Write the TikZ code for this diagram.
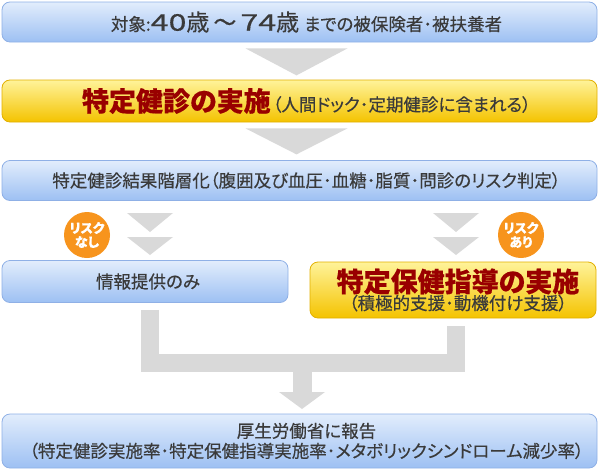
\documentclass[tikz,border=0pt]{standalone}
\usepackage{fontspec}
\setmainfont{Noto Sans CJK JP}[RawFeature=+palt, FakeBold=0.4]
\usetikzlibrary{calc}

\definecolor{bluetop}{HTML}{E2EDFC}
\definecolor{bluebot}{HTML}{9DC0F3}
\definecolor{blueline}{HTML}{8FB0E6}
\definecolor{yeltop}{HTML}{FFF39A}
\definecolor{yelbot}{HTML}{F4C300}
\definecolor{yelline}{HTML}{E2B000}
\definecolor{darkred}{HTML}{990000}
\definecolor{textgray}{HTML}{3A3A3A}
\definecolor{arrowgray}{HTML}{D9D9D9}
\definecolor{riskorange}{HTML}{F7941D}

\tikzset{
  bluebox/.style={draw=blueline, line width=0.8pt, rounded corners=8pt,
    top color=bluetop, bottom color=bluebot, text=textgray,
    align=center, font=\fontsize{17.5}{21}\selectfont},
  yellowbox/.style={draw=yelline, line width=0.8pt, rounded corners=8pt,
    top color=yeltop, bottom color=yelbot, text=textgray,
    align=center, font=\fontsize{17.5}{21}\selectfont},
  riskmark/.style={circle, fill=riskorange, text=white, minimum size=46pt,
    inner sep=0pt, align=center, font=\bfseries\fontsize{13}{14}\selectfont},
}
\newcommand{\bigred}[1]{{\color{darkred}\bfseries\fontsize{27}{29}\selectfont #1}}
\newcommand{\age}[1]{\scalebox{1.4}[1]{#1}}
\newcommand{\sh}{\hspace*{14pt}}
\newcommand{\downtri}[3]{\fill[arrowgray] ($(#1)+(-#2,0)$) -- ($(#1)+(#2,0)$) -- ($(#1)+(0,#3)$) -- cycle;}

\begin{document}
\begin{tikzpicture}[x=1pt,y=-1pt]
  \useasboundingbox (0,0) rectangle (599,471);

  % boxes
  \node[bluebox, minimum width=595pt, minimum height=40pt] (target) at (299.5,22)
    {\sh 対象:{\fontsize{23}{25}\selectfont\age{40}歳\hspace{4pt}～\hspace{4pt}\age{74}歳}\hspace{5pt}までの被保険者･被扶養者};
  \node[yellowbox, minimum width=595pt, minimum height=42pt] (exam) at (299.5,101)
    {\sh\bigred{特定健診の実施}\hspace{2pt}（人間ドック･定期健診に含まれる）};
  \node[bluebox, minimum width=595pt, minimum height=40pt] (level) at (299.5,180.5)
    {\sh 特定健診結果階層化（腹囲及び血圧･血糖･脂質･問診のリスク判定）};
  \node[bluebox, minimum width=286pt, minimum height=42pt] (info) at (145,281.5)
    {\hspace*{6pt}情報提供のみ};
  \node[yellowbox, minimum width=286pt, minimum height=56pt] (guide) at (453,290)
    {\hspace*{10pt}\bigred{特定保健指導の実施}\\[-3pt]\hspace*{10pt}（積極的支援･動機付け支援）};
  \node[bluebox, minimum width=595pt, minimum height=54pt] (report) at (299.5,441)
    {\sh 厚生労働省に報告\\[-1pt]\sh（特定健診実施率･特定保健指導実施率･メタボリックシンドローム減少率）};

  % risk marks
  \node[riskmark] (norisk) at (87,235) {リスク\\なし};
  \node[riskmark] (risk) at (521,235) {リスク\\あり};

  % arrows
  \coordinate (a1) at ($(target.south)+(-3,6)$);
  \downtri{a1}{51}{27}
  \coordinate (a2) at ($(exam.south)+(-3,6)$);
  \downtri{a2}{51}{26}
  \foreach \x in {150,456}{
    \downtri{\x,213}{23}{19}
    \downtri{\x,237}{23}{18}
  }

  % merge
  \coordinate (join) at (302,363);
  \draw[arrowgray, line width=18pt] ($(info.south)+(5,7)$) |- (join) -| ($(guide.south)+(3,8)$);
  \fill[arrowgray] ($(join)+(-9.5,0)$) rectangle ($(join)+(9.5,30)$);
  \downtri{$(join)+(0,29)$}{23}{17}
\end{tikzpicture}
\end{document}
